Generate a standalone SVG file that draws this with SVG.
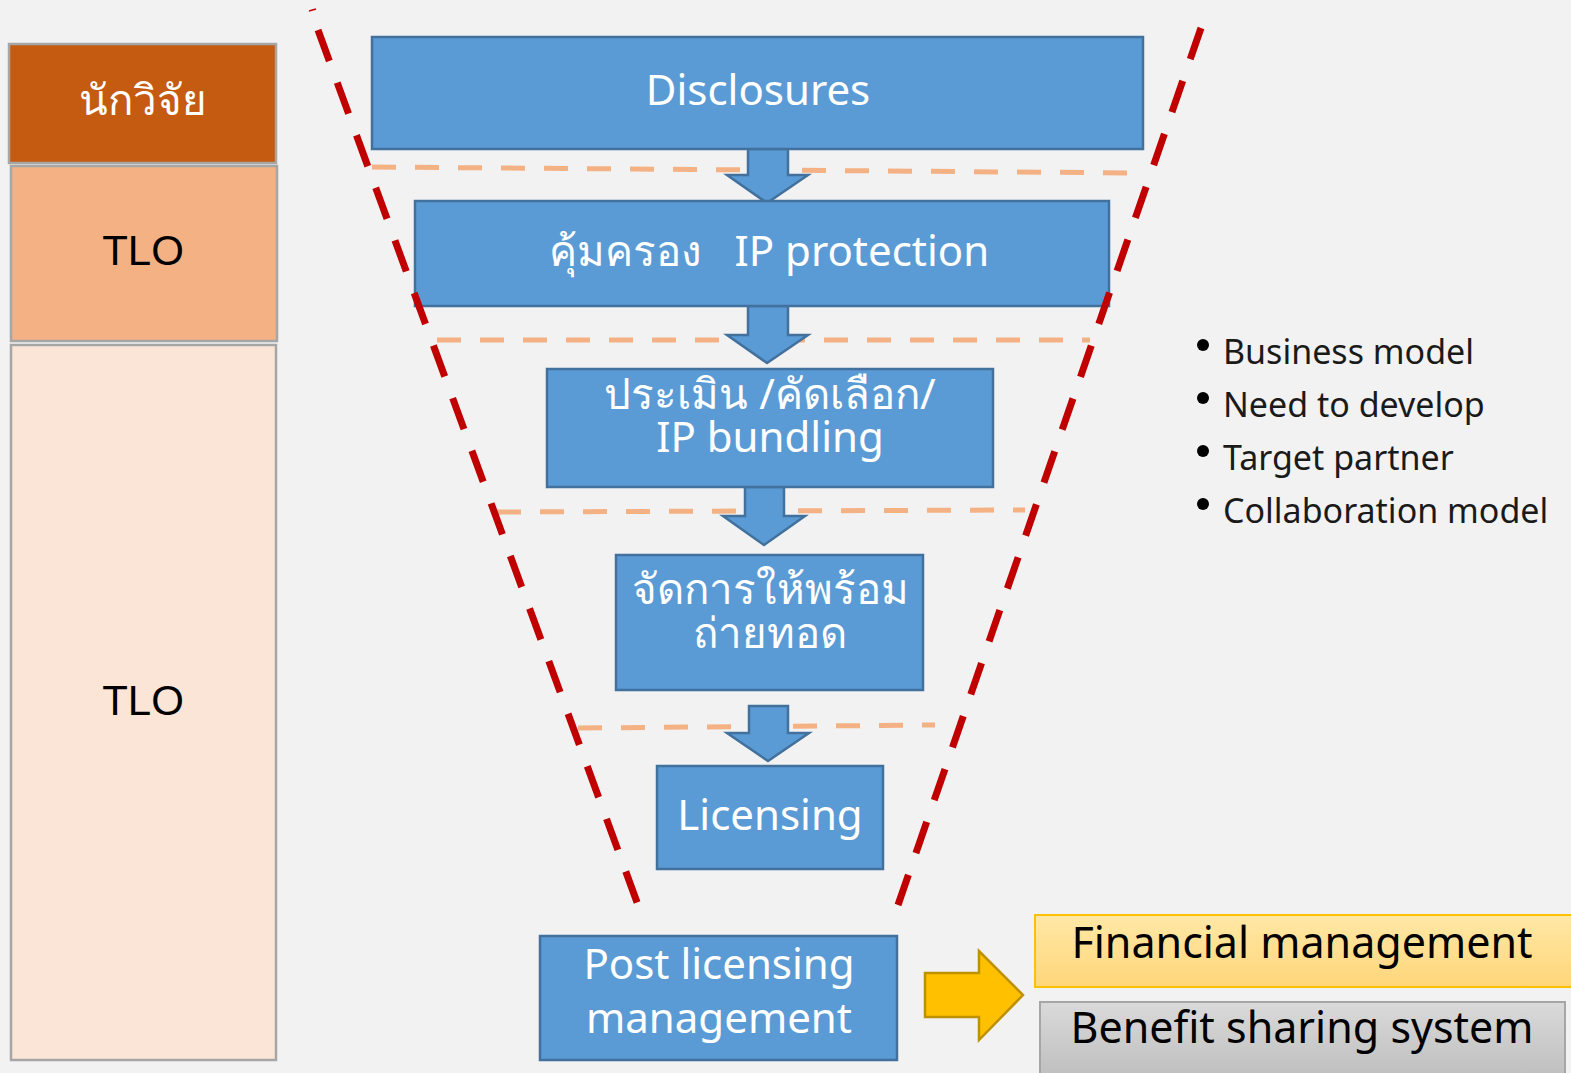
<svg xmlns="http://www.w3.org/2000/svg" width="1571" height="1073" viewBox="0 0 1571 1073">
<defs>
<linearGradient id="gy" x1="0" y1="0" x2="0" y2="1"><stop offset="0" stop-color="#ffe8a6"/><stop offset="1" stop-color="#ffd67a"/></linearGradient>
<linearGradient id="gg" x1="0" y1="0" x2="0" y2="1"><stop offset="0" stop-color="#dadada"/><stop offset="1" stop-color="#bdbdbd"/></linearGradient>
</defs>
<style>
.side{stroke:#a6a6a6;stroke-width:2.5}
.blue{fill:#5b9bd5;stroke:#41719c;stroke-width:2.5}
.wt{fill:#ffffff;font-family:"Noto Sans","Open Sans",sans-serif;font-size:42px;text-anchor:middle}
.bt{fill:#000000;font-family:"Noto Sans","Open Sans",sans-serif;font-size:43px;text-anchor:middle}
.tlo{fill:#000000;font-family:"Liberation Sans",Arial,sans-serif;font-size:42px;text-anchor:middle}
.bul{fill:#1a1a1a;font-family:"Noto Sans","Open Sans",sans-serif;font-size:34px}
.od{fill:none;stroke:#f4b183;stroke-width:5;stroke-dasharray:24 19}
.rd{fill:none;stroke:#c00000;stroke-width:7;stroke-dasharray:33 23}
</style>
<rect width="1571" height="1073" fill="#f2f2f2"/>

<g id="left-researcher"><rect class="side" x="9" y="44" width="267" height="119" fill="#c55a11"/><text class="wt" x="143" y="115">นักวิจัย</text></g>
<g id="left-tlo1"><rect class="side" x="11" y="166" width="266" height="175" fill="#f4b183"/><text class="tlo" x="143" y="265">TLO</text></g>
<g id="left-tlo2"><rect class="side" x="11" y="345" width="265" height="715" fill="#fbe5d6"/><text class="tlo" x="143" y="715">TLO</text></g>

<g id="guides">
<line class="od" x1="372" y1="167" x2="1142" y2="173"/>
<line class="od" x1="437" y1="340" x2="1090" y2="340"/>
<line class="od" x1="497" y1="512" x2="1025" y2="510"/>
<line class="od" x1="578" y1="728" x2="935" y2="725"/>
</g>

<g id="connectors">
<polygon class="blue" points="748,149 788,149 788,175 808,175 767,203 727,175 748,175"/>
<polygon class="blue" points="748,306 788,306 788,335 808,335 767,363 727,335 748,335"/>
<polygon class="blue" points="745,487 784,487 784,516 805,516 764,545 723,516 745,516"/>
<polygon class="blue" points="749,706 788,706 788,733 809,733 768,761 727,733 749,733"/>
<polygon points="925,973 979,973 979,951 1023,995 979,1040 979,1017 925,1017" fill="#ffc000" stroke="#bf9000" stroke-width="2.5"/>
</g>

<g id="node-disclosures"><rect class="blue" x="372" y="37" width="771" height="112"/><text class="wt" x="758" y="105">Disclosures</text></g>
<g id="node-protection"><rect class="blue" x="415" y="201" width="694" height="105"/><text class="wt" x="769" y="266" xml:space="preserve">คุ้มครอง   IP protection</text></g>
<g id="node-evaluate"><rect class="blue" x="547" y="369" width="446" height="118"/><text class="wt" x="770" y="409">ประเมิน /คัดเลือก/</text><text class="wt" x="770" y="452">IP bundling</text></g>
<g id="node-prepare"><rect class="blue" x="616" y="555" width="307" height="135"/><text class="wt" x="770" y="604">จัดการให้พร้อม</text><text class="wt" x="770" y="648">ถ่ายทอด</text></g>
<g id="node-licensing"><rect class="blue" x="657" y="766" width="226" height="103"/><text class="wt" x="770" y="830">Licensing</text></g>
<g id="node-post"><rect class="blue" x="540" y="936" width="357" height="124"/><text class="wt" x="719" y="979">Post licensing</text><text class="wt" x="719" y="1033">management</text></g>

<g id="funnel">
<line class="rd" x1="318" y1="30" x2="638" y2="905"/>
<line class="rd" x1="1201" y1="28" x2="898" y2="905"/>
<line x1="309" y1="11" x2="316" y2="9" stroke="#c00000" stroke-width="1.5"/>
</g>

<g id="node-financial"><rect x="1035" y="915" width="545" height="72" fill="url(#gy)" stroke="#ffc000" stroke-width="2"/><text class="bt" x="1302" y="958">Financial management</text></g>
<g id="node-benefit"><rect x="1040" y="1002" width="525" height="80" fill="url(#gg)" stroke="#a6a6a6" stroke-width="2"/><text class="bt" x="1302" y="1043">Benefit sharing system</text></g>

<g id="bullets">
<circle cx="1203" cy="345" r="6" fill="#000"/><text class="bul" x="1223" y="364">Business model</text>
<circle cx="1203" cy="398" r="6" fill="#000"/><text class="bul" x="1223" y="417">Need to develop</text>
<circle cx="1203" cy="451" r="6" fill="#000"/><text class="bul" x="1223" y="470">Target partner</text>
<circle cx="1203" cy="504" r="6" fill="#000"/><text class="bul" x="1223" y="523">Collaboration model</text>
</g>
</svg>
